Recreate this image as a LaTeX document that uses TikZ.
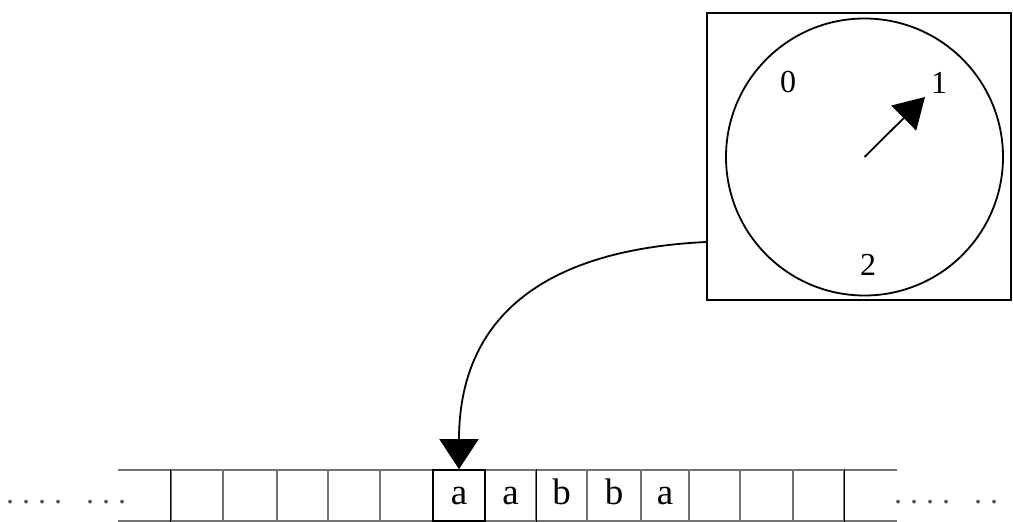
\documentclass[tikz,border=0pt]{standalone}
\usepackage{fontspec}
\setmainfont{Liberation Serif}
\usetikzlibrary{arrows.meta}
\begin{document}
\begin{tikzpicture}[x=1pt,y=-1pt,
  cellbox/.style={draw=black!55,line width=1.1pt,minimum height=51pt,
    inner sep=0pt,text height=17pt,text depth=0pt,
    font=\fontsize{37}{40}\selectfont},
  headbox/.style={cellbox,draw=black,line width=1.6pt},
  rail/.style={draw=black!55,line width=1.2pt},
  darkbar/.style={draw=black,line width=1.6pt},
  digit/.style={anchor=base,inner sep=0pt,font=\fontsize{32}{34}\selectfont},
  dots/.style={anchor=base west,inner sep=0pt,text=black!70,font=\fontsize{30}{32}\selectfont},
  frame/.style={draw=black,line width=2pt,inner sep=0pt},
  pointer/.style={line width=1.8pt,-{Triangle[length=30pt,width=35pt]}},
  link/.style={line width=1.8pt,-{Triangle[length=30pt,width=39pt]}}]
\useasboundingbox (0,0) rectangle (1013,522);

% the dial: framed box with a round face, three positions and a needle
\node[frame,minimum width=304pt,minimum height=287pt] (dial) at (859,156.5) {};
\node[frame,circle,line width=1.8pt,minimum size=277pt] (face) at (864.5,157) {};
\node[digit] (p0) at (788,92) {0};
\node[digit] (p1) at (939,93) {1};
\node[digit] (p2) at (868,275) {2};
\coordinate (tip) at (925,97);
\draw[pointer] (face.center) -- (tip);

% the tape rails
\coordinate (tl) at (118,470);
\coordinate (tr) at (897,470);
\coordinate (bl) at (118,521);
\coordinate (br) at (897,521);
\draw[rail] (tl) -- (tr);
\draw[rail] (bl) -- (br);

% tape cells (left edge / right edge / symbol)
\foreach \i/\l/\r/\s in {1/171/223/,2/223/277/,3/277/328/,4/328/380/,5/380/433/,
    7/485/536/a,8/536/587/b,9/587/641/b,10/641/689/a,
    11/689/740/,12/740/793/,13/793/844/}{
  \node[cellbox,minimum width={\r-\l}] (c\i) at ({(\l+\r)/2},495.5) {\s};
}
\node[headbox,minimum width=52pt] (c6) at (459,495.5) {a};
\draw[darkbar] (c1.north west) -- (c1.south west);
\draw[darkbar] (c7.north east) -- (c7.south east);
\draw[darkbar] (c13.north east) -- (c13.south east);

% blank tape continuing on both sides
\node[dots] (ldots) at (6.25,503) {.\kern8.5pt.\kern8.5pt.\kern8.5pt.\kern24.5pt.\kern8.5pt.\kern8.5pt.};
\node[dots] (rdots) at (894.25,503) {.\kern8.5pt.\kern8.5pt.\kern8.5pt.\kern24.5pt.\kern8.5pt.};

% the read head link from the dial to the current cell
\coordinate (out) at ([yshift=-85.5pt]dial.west);
\draw[link] (out) .. controls (540,250) and (459,320) .. (459,440) -- (c6.north);
\end{tikzpicture}
\end{document}
